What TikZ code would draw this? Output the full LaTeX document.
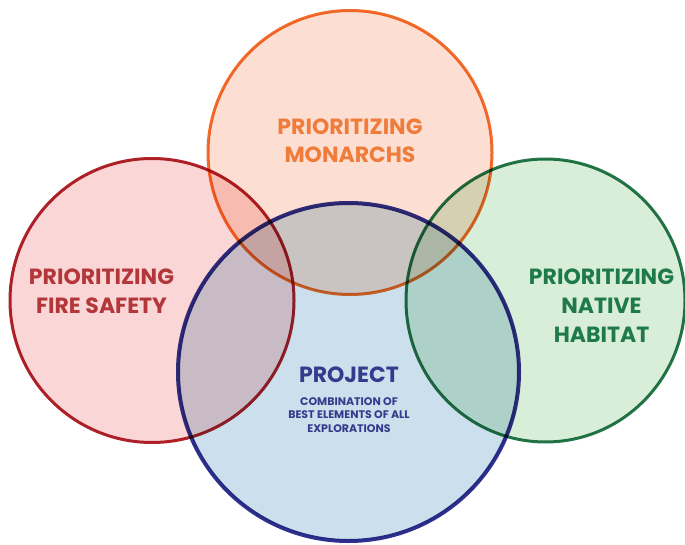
\documentclass[tikz,border=0pt]{standalone}
\usepackage{fontspec}
\setmainfont{Poppins}
\begin{document}
\begin{tikzpicture}[x=1pt,y=-1pt,
  ring/.style={line width=#1, blend mode=multiply},
  lbl/.style={font=\bfseries\fontsize{22}{28.7}\selectfont, align=center, inner sep=0pt, anchor=base},
]
\definecolor{orF}{HTML}{FCDFD2}\definecolor{orL}{HTML}{F36F2B}\definecolor{orT}{HTML}{F07C3C}
\definecolor{rdF}{HTML}{FAD6D6}\definecolor{rdL}{HTML}{B0232B}\definecolor{rdT}{HTML}{B2363A}
\definecolor{gnF}{HTML}{D9EED9}\definecolor{gnL}{HTML}{24774A}\definecolor{gnT}{HTML}{1F7A4A}
\definecolor{blF}{HTML}{CCDFEC}\definecolor{blL}{HTML}{30318F}\definecolor{blT}{HTML}{353A8C}
\fill[white] (0,0) rectangle (685,545);
\useasboundingbox (0,0) rectangle (685,545);
\begin{scope}
\clip (0,0) rectangle (685,545);
\path[ring=4pt, fill=blF, draw=blL] (348.5,372) ellipse [x radius=170.5, y radius=169];
\path[ring=3pt, fill=rdF, draw=rdL] (152,300.5) circle [radius=142];
\path[ring=3pt, fill=orF, draw=orL] (350,152.5) circle [radius=142];
\path[ring=3pt, fill=gnF, draw=gnL] (545.5,300.5) ellipse [x radius=139.5, y radius=141.5];
\end{scope}
\node[lbl, text=orT] (mon) at (350,163) {PRIORITIZING\\MONARCHS};
\node[lbl, text=rdT] (fire) at (101.5,313) {PRIORITIZING\\FIRE SAFETY};
\node[lbl, text=gnT] (nat) at (601.5,342) {PRIORITIZING\\NATIVE\\HABITAT};
\node[lbl, text=blT, font=\bfseries\fontsize{22}{29}\selectfont] (proj) at (349,382) {PROJECT};
\node[lbl, text=blT, font=\bfseries\fontsize{11}{13.5}\selectfont] (sub) at (349,432) {COMBINATION OF\\BEST ELEMENTS OF ALL\\EXPLORATIONS};
\end{tikzpicture}
\end{document}
